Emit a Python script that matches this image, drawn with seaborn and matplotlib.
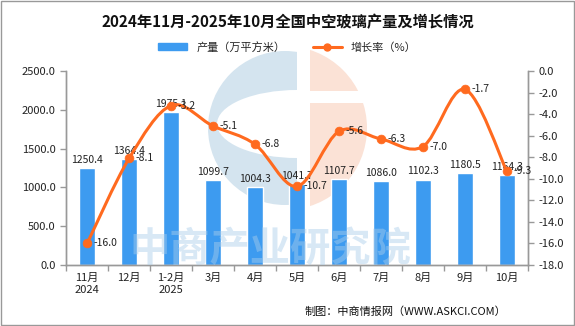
import numpy as np
import pandas as pd
import matplotlib
matplotlib.use("Agg")
import matplotlib.pyplot as plt
import seaborn as sns
from matplotlib.path import Path
from matplotlib.patches import PathPatch, Patch, Rectangle, Circle, Ellipse
from matplotlib.lines import Line2D
from matplotlib.ticker import FormatStrFormatter

months = ["11月\n2024", "12月", "1-2月\n2025", "3月", "4月", "5月", "6月", "7月", "8月", "9月", "10月"]
output = [1250.4, 1364.4, 1975.1, 1099.7, 1004.3, 1041.7, 1107.7, 1086.0, 1102.3, 1180.5, 1164.3]
growth = [-16.0, -8.1, -3.2, -5.1, -6.8, -10.7, -5.6, -6.3, -7.0, -1.7, -9.3]

sns.set_theme(style="white")
plt.rcParams['font.family'] = ['Noto Sans CJK SC', 'DejaVu Sans']
plt.rcParams['axes.unicode_minus'] = False

BLUE = "#3d9bf0"
ORANGE = "#ff6a1f"

df = pd.DataFrame({"month": months, "output": output, "growth": growth})

fig = plt.figure(figsize=(5.75, 3.26), dpi=100, facecolor="white")

# background logo watermark (pixel coordinates)
bg = fig.add_axes([0, 0, 1, 1], zorder=-5)
bg.set_xlim(0, 575)
bg.set_ylim(326, 0)
bg.axis("off")
clip_left = Rectangle((0, 0), 297, 326, transform=bg.transData)
clip_right = Rectangle((310, 0), 265, 326, transform=bg.transData)
c1 = Circle((285, 128), 77, facecolor="#d4e4ef", edgecolor="none")
bg.add_patch(c1)
c1.set_clip_path(clip_left)
e1 = Ellipse((297, 124), 160, 68, facecolor="white", edgecolor="none")
bg.add_patch(e1)
e1.set_clip_path(clip_left)
c2 = Circle((285, 128), 82, facecolor="#fbe2d6", edgecolor="none")
bg.add_patch(c2)
c2.set_clip_path(clip_right)
bg.add_patch(Rectangle((310, 91), 100, 12, facecolor="white", edgecolor="none"))

ax = fig.add_axes([0.115, 0.187, 0.803, 0.595])
ax.patch.set_visible(False)

sns.barplot(data=df, x="month", y="output", color=BLUE, width=0.38, saturation=1, ax=ax, zorder=2)
ax.set_xlim(-0.5, len(months) - 0.5)
ax.set_ylim(0, 2500)
ax.set_yticks(np.arange(0, 2501, 500))
ax.yaxis.set_major_formatter(FormatStrFormatter('%.1f'))
ax.set_xticks(np.arange(-0.5, len(months), 1.0), minor=True)
ax.set_xlabel("")
ax.set_ylabel("")
for i, v in enumerate(output):
    ax.text(i, v + 40, f"{v:.1f}", ha="center", va="bottom", fontsize=7.5, color="#222222", zorder=5)

ax2 = ax.twinx()
ax2.patch.set_visible(False)
ax2.set_ylim(-18, 0)
ax2.set_yticks(np.arange(-18, 0.1, 2))
ax2.yaxis.set_major_formatter(FormatStrFormatter('%.1f'))

# smooth curve via Catmull-Rom -> cubic bezier path
x = np.arange(len(growth), dtype=float)
y = np.array(growth, dtype=float)
verts = [(x[0], y[0])]
codes = [Path.MOVETO]
t = 0.5
for i in range(len(x) - 1):
    p0 = (x[i - 1], y[i - 1]) if i > 0 else (x[i], y[i])
    p1 = (x[i], y[i])
    p2 = (x[i + 1], y[i + 1])
    p3 = (x[i + 2], y[i + 2]) if i + 2 < len(x) else (x[i + 1], y[i + 1])
    cc1 = (p1[0] + (p2[0] - p0[0]) * t / 3, p1[1] + (p2[1] - p0[1]) * t / 3)
    cc2 = (p2[0] - (p3[0] - p1[0]) * t / 3, p2[1] - (p3[1] - p1[1]) * t / 3)
    verts += [cc1, cc2, p2]
    codes += [Path.CURVE4] * 3
ax2.add_patch(PathPatch(Path(verts, codes), fill=False, edgecolor=ORANGE, lw=2.2, zorder=3))
sns.scatterplot(data=df, x=np.arange(len(growth)), y="growth", color=ORANGE, s=40,
                edgecolor=ORANGE, ax=ax2, zorder=4, legend=False)
ax2.set_ylabel("")
for i, v in enumerate(growth):
    ax2.text(i + 0.15, v, f"{v:.1f}", ha="left", va="center", fontsize=7.5, color="#222222", zorder=5)

for a in (ax, ax2):
    a.spines["top"].set_visible(False)
    for s in ["left", "right", "bottom"]:
        a.spines[s].set_color("#999999")
        a.spines[s].set_linewidth(1)
    a.tick_params(axis="both", labelsize=8, labelcolor="#222222", color="#999999", length=4, width=1)
ax.tick_params(axis="x", which="major", length=0, pad=6)
ax.tick_params(axis="x", which="minor", length=4, width=1, color="#999999", bottom=True)
ax.tick_params(axis="y", direction="out")
ax2.tick_params(axis="y", direction="out")
ax2.set_xlim(-0.5, len(months) - 0.5)

# watermark text
fig.text(0.47, 0.236, "中商产业研究院", fontsize=29, fontweight="bold", color="#a9cdeb",
         alpha=0.45, ha="center", va="center", zorder=10)

fig.suptitle("2024年11月-2025年10月全国中空玻璃产量及增长情况", x=0.5, y=0.955,
             fontsize=11, fontweight="bold", color="#111111")

handles = [Patch(facecolor=BLUE, edgecolor=BLUE),
           Line2D([0], [0], color=ORANGE, lw=2.2, marker="o", markersize=5)]
fig.legend(handles, ["产量（万平方米）", "增长率（%）"], loc="center", bbox_to_anchor=(0.5, 0.855),
           ncol=2, frameon=False, fontsize=8, handlelength=2.6, handleheight=0.6, columnspacing=2.5)

fig.text(0.88, 0.045, "制图：中商情报网（WWW.ASKCI.COM）", ha="right", va="center", fontsize=8, color="#111111")
fig.patches.append(Rectangle((0.002, 0.003), 0.996, 0.994, transform=fig.transFigure,
                             fill=False, edgecolor="#999999", lw=1))

fig.savefig("out.png", dpi=100, facecolor="white")
